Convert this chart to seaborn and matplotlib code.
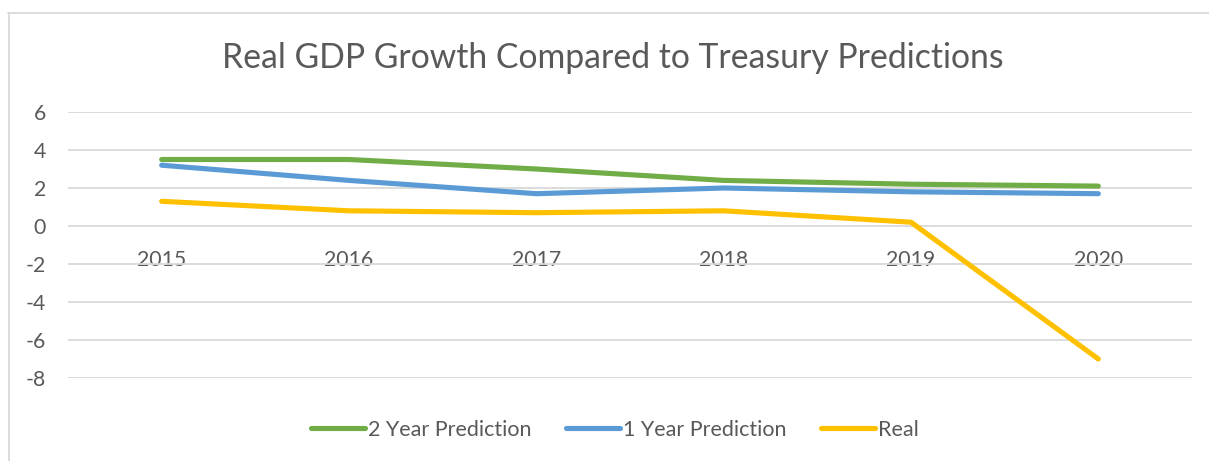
import matplotlib
matplotlib.use("Agg")
import matplotlib.pyplot as plt
import seaborn as sns
import pandas as pd
from matplotlib.lines import Line2D

years = ["2015", "2016", "2017", "2018", "2019", "2020"]
two_year = [3.5, 3.5, 3.0, 2.4, 2.2, 2.1]
one_year = [3.2, 2.4, 1.7, 2.0, 1.8, 1.7]
real = [1.3, 0.8, 0.7, 0.8, 0.2, -7.0]
series_names = ["2 Year Prediction", "1 Year Prediction", "Real"]
colors = ["#70AD47", "#5B9BD5", "#FFC000"]
yticks = [-8, -6, -4, -2, 0, 2, 4, 6]

rows = []
for name, vals in zip(series_names, [two_year, one_year, real]):
    for y, v in zip(years, vals):
        rows.append({"Year": y, "Value": v, "Series": name})
df = pd.DataFrame(rows)

sns.set_theme(style="white")
plt.rcParams['font.family'] = ['Lato', 'DejaVu Sans']
plt.rcParams['axes.unicode_minus'] = False
txt = "#595959"

fig = plt.figure(figsize=(12.09, 4.61), dpi=100)
W, H = 1209, 461
ax = fig.add_axes([68 / W, 1 - 378 / H, (1192 - 68) / W, (378 - 112) / H])

sns.lineplot(data=df, x="Year", y="Value", hue="Series", palette=colors,
             hue_order=series_names, linewidth=3.7, ax=ax, legend=False,
             solid_capstyle="round", sort=False)

ax.set_xlim(-0.5, len(years) - 0.5)
ax.set_ylim(-8, 6)
ax.set_yticks(yticks)
ax.set_yticklabels([str(t) for t in yticks])
ax.yaxis.grid(True, color="#D9D9D9", linewidth=1.3)
ax.set_axisbelow(True)
for s in ["top", "right", "left"]:
    ax.spines[s].set_visible(False)
ax.spines["bottom"].set_position(("data", 0))
ax.spines["bottom"].set_visible(False)
ax.tick_params(axis="x", length=0, pad=17, labelsize=15.3, labelcolor=txt)
ax.tick_params(axis="y", length=0, pad=16, labelsize=15.3, labelcolor=txt)
ax.set_xlabel("")
ax.set_ylabel("")

fig.text(613 / W, 1 - 58 / H, "Real GDP Growth Compared to Treasury Predictions",
         ha="center", va="center", fontsize=24.3, color=txt)

handles = [Line2D([0], [0], color=c, lw=3.7, solid_capstyle="round") for c in colors]
fig.legend(handles, series_names, loc="center", bbox_to_anchor=(615 / W, 1 - 430 / H),
           ncol=3, frameon=False, fontsize=15.5, labelcolor=txt, handlelength=2.5,
           handletextpad=0.15, columnspacing=1.6)

fig.add_artist(Line2D([8 / W, 1.0], [1 - 13.5 / H, 1 - 13.5 / H], color="#D9D9D9", lw=1.3))
fig.add_artist(Line2D([8.5 / W, 8.5 / W], [1 - 13.5 / H, 0], color="#D9D9D9", lw=1.3))

fig.savefig("out.png", dpi=100, facecolor="white")
